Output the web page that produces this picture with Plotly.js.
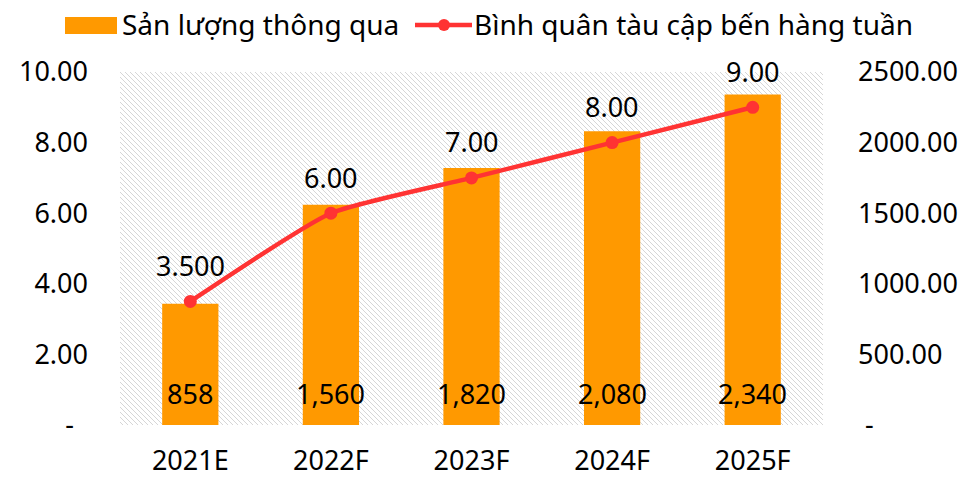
<!DOCTYPE html>
<html>
<head>
<meta charset="utf-8">
<script src="https://cdn.plot.ly/plotly-3.0.1.min.js"></script>
<style>html,body{margin:0;padding:0;background:#fff;}#chart{width:969px;height:477px;}</style>
</head>
<body>
<div id="chart"></div>
<script>
// ---- data ----
var categories = ["2021E", "2022F", "2023F", "2024F", "2025F"];
var throughput = [858, 1560, 1820, 2080, 2340];          // Sản lượng thông qua (right axis)
var weeklyCalls = [3.5, 6.0, 7.0, 8.0, 9.0];             // Bình quân tàu cập bến hàng tuần (left axis)
var weeklyCallLabels = ["3.500", "6.00", "7.00", "8.00", "9.00"];
var leftTickVals = [0, 2, 4, 6, 8, 10];
var leftTickText = ["-\u00a0\u00a0", "2.00", "4.00", "6.00", "8.00", "10.00"];
var rightTickVals = [0, 500, 1000, 1500, 2000, 2500];
var rightTickText = ["\u00a0-", "500.00", "1000.00", "1500.00", "2000.00", "2500.00"];
var seriesNames = ["Sản lượng thông qua", "Bình quân tàu cập bến hàng tuần"];

// ---- layout geometry ----
var W = 969, H = 477;
var M = {l: 120, r: 146, t: 72, b: 52};
var PW = W - M.l - M.r, PH = H - M.t - M.b;
function px(x) { return (x - M.l) / PW; }
function py(y) { return (H - M.b - y) / PH; }

var barColor = "#FF9900";
var lineColor = "#FF3333";
var tickFont = {family: "Noto Sans, Open Sans, sans-serif", size: 27, color: "#000"};
var legendFont = {family: "Noto Sans, Open Sans, sans-serif", size: 28, color: "#000"};

// bars on primary (right-side) axis, line on overlaying (left-side) axis so it is drawn on top
var bars = {
  type: "bar", x: categories, y: throughput, yaxis: "y",
  marker: {color: barColor}, name: seriesNames[0], hoverinfo: "x+y"
};
var line = {
  type: "scatter", mode: "lines+markers", x: categories, y: weeklyCalls, yaxis: "y2",
  line: {color: lineColor, width: 4.5, shape: "spline", smoothing: 0.5},
  marker: {color: lineColor, size: 13}, name: seriesNames[1]
};

var annotations = [];
categories.forEach(function (c, i) {
  annotations.push({x: c, y: weeklyCalls[i], xref: "x", yref: "y2", text: weeklyCallLabels[i],
    showarrow: false, yshift: 36, font: tickFont});
  annotations.push({x: c, y: 0, xref: "x", yref: "y", text: throughput[i].toLocaleString("en-US"),
    showarrow: false, yshift: 32, font: tickFont});
});
// legend texts
annotations.push({x: px(120), y: py(24), xref: "paper", yref: "paper", xanchor: "left", yanchor: "middle",
  text: seriesNames[0], showarrow: false, font: legendFont});
annotations.push({x: px(472), y: py(24), xref: "paper", yref: "paper", xanchor: "left", yanchor: "middle",
  text: seriesNames[1], showarrow: false, font: legendFont});

var shapes = [
  {type: "rect", xref: "paper", yref: "paper", x0: px(65), x1: px(117), y0: py(17), y1: py(34),
   fillcolor: barColor, line: {width: 0}},
  {type: "line", xref: "paper", yref: "paper", x0: px(415), x1: px(472), y0: py(25), y1: py(25),
   line: {color: lineColor, width: 4.5}},
  {type: "circle", xref: "paper", yref: "paper", x0: px(438), x1: px(450), y0: py(19), y1: py(31),
   fillcolor: lineColor, line: {width: 0}}
];

var tile = "";
for (var k = 0; k < 5; k++) tile += "<rect x='" + k + "' y='" + k + "' width='1' height='1' fill='#d6d6d6'/>";
var hatch = "<svg xmlns='http://www.w3.org/2000/svg' width='" + PW + "' height='" + PH + "' shape-rendering='crispEdges'>" +
  "<defs><pattern id='p' width='5' height='5' patternUnits='userSpaceOnUse'>" + tile + "</pattern></defs>" +
  "<rect width='100%' height='100%' fill='url(#p)'/></svg>";

var layout = {
  width: W, height: H,
  margin: M,
  paper_bgcolor: "#fff", plot_bgcolor: "rgba(0,0,0,0)",
  showlegend: false,
  bargap: 0.6,
  xaxis: {type: "category", showgrid: false, zeroline: false, showline: false, ticks: "",
    tickfont: tickFont, ticklabelstandoff: 17},
  yaxis: {range: [0, 2500], side: "right", tickvals: rightTickVals, ticktext: rightTickText,
    showgrid: false, zeroline: false, showline: false, ticks: "", tickfont: tickFont, ticklabelstandoff: 34},
  yaxis2: {range: [0, 10], overlaying: "y", side: "left", tickvals: leftTickVals, ticktext: leftTickText,
    showgrid: false, zeroline: false, showline: false, ticks: "", tickfont: tickFont, ticklabelstandoff: 31},
  images: [{source: "data:image/svg+xml;charset=utf-8," + encodeURIComponent(hatch),
    xref: "paper", yref: "paper", x: 0, y: 1, sizex: 1, sizey: 1, sizing: "stretch",
    xanchor: "left", yanchor: "top", layer: "below"}],
  annotations: annotations,
  shapes: shapes
};

Plotly.newPlot("chart", [bars, line], layout, {displayModeBar: false, staticPlot: true});
</script>
</body>
</html>
